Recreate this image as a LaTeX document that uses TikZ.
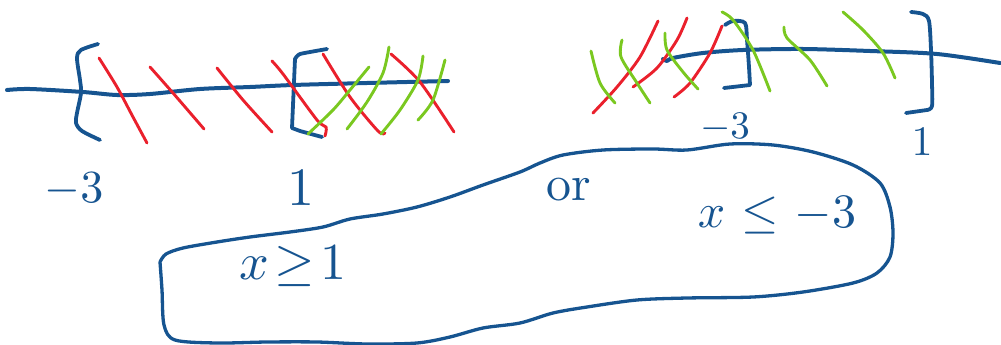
\documentclass[tikz,border=0pt]{standalone}
\usepackage{amsmath}
\definecolor{ink}{RGB}{22,84,144}
\definecolor{inkred}{RGB}{234,32,44}
\definecolor{inkgreen}{RGB}{122,200,32}
\tikzset{
  axisline/.style={ink, line width=4pt, line cap=round, line join=round},
  bracket/.style={ink, line width=3.8pt, line cap=round, line join=round},
  hatchred/.style={inkred, line width=2.9pt, line cap=round},
  hatchgreen/.style={inkgreen, line width=2.9pt, line cap=round},
  outline/.style={ink, line width=3.3pt, line cap=round, line join=round},
  lbl/.style={ink, inner sep=0pt, transform shape, scale=#1},
}
\begin{document}
\begin{tikzpicture}[x=1pt,y=-1pt]
\useasboundingbox (0,0) rectangle (1001,345);

% ---------- first number line ----------
\draw[axisline] plot[smooth] coordinates {(7,90) (30,89) (83,92) (117,95) (150,94) (200,89) (250,87) (293,85) (367,83) (448,81)};
% brackets at -3 and 1
\draw[bracket] plot[smooth] coordinates {(98,44) (81,50) (77,58) (80,80) (81,93) (77,113) (76,123) (82,131) (100,140)};
\draw[bracket] plot[smooth, tension=0.3] coordinates {(327,49) (300,54) (295,59)} -- (292,128) -- (300,131) -- (322,137);
% red hatching
\draw[hatchred] plot[smooth] coordinates {(99,58) (117,87) (133,117) (147,143)};
\draw[hatchred] plot[smooth] coordinates {(150,67) (173,93) (204,129)};
\draw[hatchred] plot[smooth] coordinates {(217,68) (243,100) (272,132)};
\draw[hatchred] plot[smooth] coordinates {(272,61) (283,74) (317,120) (326,127) (325,136)};
\draw[hatchred] plot[smooth] coordinates {(323,54) (350,97) (378,131) (385,133)};
\draw[hatchred] plot[smooth] coordinates {(391,54) (420,82) (454,132)};
% green hatching
\draw[hatchgreen] plot[smooth] coordinates {(308,134) (333,110) (350,90) (369,67)};
\draw[hatchgreen] plot[smooth] coordinates {(347,129) (367,102) (383,73) (389,47)};
\draw[hatchgreen] plot[smooth] coordinates {(381,134) (400,110) (418,80) (423,56)};
\draw[hatchgreen] plot[smooth] coordinates {(418,120) (433,100) (445,60)};

\node[lbl=4.6] (la) at (74,190) {$-3$};
\node[lbl=5.4] (lb) at (301,188) {$1$};

% ---------- second number line ----------
\draw[axisline] plot[smooth] coordinates {(663,59) (667,61) (673,58) (703,53) (743,50) (803,49) (870,51) (937,54) (1000,63)};
% brackets at -3 and 1
\draw[bracket] plot[smooth] coordinates {(725,25) (733,21) (745,23) (747,40) (749,67) (750,85)} -- (724,88);
\draw[bracket] plot[smooth] coordinates {(911,12) (923,14) (929,21) (931,50) (932,83) (932,106) (927,110)} -- (906,113);
% red hatching
\draw[hatchred] plot[smooth] coordinates {(593,113) (617,87) (640,57) (658,21)};
\draw[hatchred] plot[smooth] coordinates {(633,87) (657,68) (677,40) (687,18)};
\draw[hatchred] plot[smooth] coordinates {(674,97) (690,83) (710,53) (722,26)};
% green hatching
\draw[hatchgreen] plot[smooth] coordinates {(591,51) (600,83) (615,103)};
\draw[hatchgreen] plot[smooth] coordinates {(622,40) (621,57) (637,83) (650,103)};
\draw[hatchgreen] plot[smooth] coordinates {(665,33) (667,50) (683,72) (698,89)};
\draw[hatchgreen] plot[smooth] coordinates {(722,12) (733,20) (753,50) (770,91)};
\draw[hatchgreen] plot[smooth] coordinates {(784,27) (787,38) (810,60) (827,86)};
\draw[hatchgreen] plot[smooth] coordinates {(843,12) (863,30) (883,53) (895,78)};

\node[lbl=3.9] (ra) at (725,128) {$-3$};
\node[lbl=4.2] (rb) at (922,142) {$1$};

% ---------- enclosing outline around the answer ----------
\draw[outline] plot[smooth] coordinates {
  (160,262) (166,254) (183,248) (217,242) (250,237) (290,232) (323,227)
  (350,219) (383,214) (417,207) (450,197) (483,185) (520,172) (540,163)
  (563,155) (603,150) (653,149) (687,150) (730,144) (773,145) (813,152)
  (853,165) (880,183) (890,207) (893,233) (890,257) (877,273) (853,283)
  (803,292) (753,297) (687,298) (637,300) (587,307) (553,313) (520,323)
  (483,328) (450,337) (417,343) (367,344) (317,342) (267,342) (217,343)
  (175,340) (164,325) (162,290) (160,262)};

\node[lbl=5.0] (or) at (569,190) {or};
\node[lbl=5.2] (ge) at (293,266) {$x\mkern2mu{\geq}\mkern2mu 1$};
\node[lbl=4.8] (le) at (777,215) {$x\ {\leq}\ {-3}$};
\end{tikzpicture}
\end{document}
